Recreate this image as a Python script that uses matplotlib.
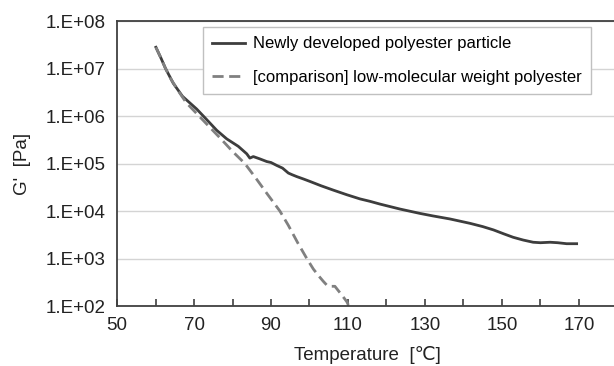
import numpy as np
import matplotlib
matplotlib.use("Agg")
import matplotlib.pyplot as plt
from matplotlib.ticker import FixedLocator, FuncFormatter, NullLocator

plt.rcParams['font.family'] = ['Liberation Sans', 'DejaVu Sans']

# newly developed polyester particle (solid)
temp_new = [60.1, 61.5, 62.6, 64.6, 67.0, 70.7, 73.0, 75.9, 78.5, 81.5, 83.7, 84.5,
            85.4, 87.0, 88.9, 90.0, 91.5, 93.0, 94.5, 95.5, 96.7, 98.5, 100.1, 103.0,
            106.2, 109.7, 113.1, 115.7, 118.3, 123.5, 128.7, 132.0, 136.5, 141.7,
            145.0, 147.8, 150.5, 152.9, 155.5, 158.1, 160.0, 162.5, 164.5, 166.8, 169.4]
g_new = [2.8e7, 1.6e7, 1.0e7, 4.9e6, 2.6e6, 1.4e6, 8.9e5, 5.0e5, 3.3e5, 2.3e5, 1.6e5, 1.3e5,
         1.4e5, 1.26e5, 1.1e5, 1.05e5, 9.1e4, 8.0e4, 6.3e4, 5.8e4, 5.3e4, 4.7e4, 4.2e4, 3.4e4,
         2.75e4, 2.2e4, 1.8e4, 1.6e4, 1.4e4, 1.1e4, 8.9e3, 7.9e3, 6.8e3, 5.5e3,
         4.7e3, 4.0e3, 3.3e3, 2.8e3, 2.45e3, 2.2e3, 2.15e3, 2.2e3, 2.15e3, 2.05e3, 2.05e3]

# comparison: low-molecular weight polyester (dashed)
temp_cmp = [60.1, 61.5, 62.6, 64.0, 66.0, 68.0, 71.3, 74.0, 77.0, 80.0, 83.2, 86.0, 89.0,
            92.3, 94.5, 97.0, 99.3, 101.0, 102.5, 103.6, 104.5, 105.3, 106.6, 107.5,
            108.4, 109.7, 110.1]
g_cmp = [2.8e7, 1.6e7, 1.0e7, 6.0e6, 3.3e6, 1.9e6, 1.0e6, 5.9e5, 3.3e5, 1.8e5, 1.0e5, 5.0e4, 2.3e4,
         1.0e4, 5.0e3, 2.1e3, 1.0e3, 6.0e2, 4.2e2, 3.3e2, 2.75e2, 2.6e2, 2.6e2, 2.1e2,
         1.7e2, 1.23e2, 1.05e2]

labels = ['Newly developed polyester particle', '[comparison] low-molecular weight polyester']
x_labelled = [50, 70, 90, 110, 130, 150, 170]

fig = plt.figure(figsize=(6.14, 3.66), dpi=100)
ax = fig.add_axes([0.1906, 0.1639, 0.815, 0.7787])

ax.plot(temp_new, g_new, color='#3d3d3d', lw=2.0, label=labels[0])
ax.plot(temp_cmp, g_cmp, color='#808080', lw=2.0, ls=(0, (4, 2)), label=labels[1])

ax.set_yscale('log')
ax.set_ylim(1e2, 1e8)
ax.set_xlim(50, 180)
ax.yaxis.set_major_locator(FixedLocator([10.0 ** k for k in range(2, 9)]))
ax.yaxis.set_minor_locator(NullLocator())
ax.yaxis.set_major_formatter(FuncFormatter(lambda v, p: '1.E+%02d' % round(np.log10(v))))
ax.set_xticks(x_labelled)
ax.set_xticks(np.arange(60, 180, 20), minor=True)

ax.grid(axis='y', color='#d4d4d4', lw=1.0)
ax.set_axisbelow(True)
ax.tick_params(axis='y', length=0, pad=8, labelsize=13.5, colors='#222222')
ax.tick_params(axis='x', which='both', direction='in', length=5, width=1.2,
               color='#404040', pad=8, labelsize=13.5, labelcolor='#222222')
for s in ax.spines.values():
    s.set_color('#404040')
    s.set_linewidth(1.3)

ax.set_xlabel('Temperature  [\u2103]', fontsize=13.5, color='#222222')
ax.xaxis.set_label_coords(0.5, -0.14)
ax.set_ylabel("G'  [Pa]", fontsize=13.5, color='#222222')
ax.yaxis.set_label_coords(-0.172, 0.5)

leg = ax.legend(loc='upper left', bbox_to_anchor=(0.171, 0.978), borderaxespad=0,
                fontsize=12, frameon=True, fancybox=False, framealpha=1,
                edgecolor='#c0c0c0', handlelength=2.0, handletextpad=0.45,
                labelspacing=1.1, borderpad=0.55)
leg.get_frame().set_linewidth(1.0)

fig.savefig('out.png', dpi=100)
